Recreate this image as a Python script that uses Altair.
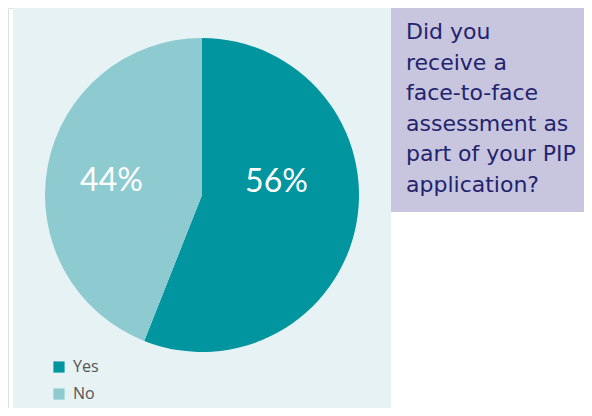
import altair as alt
import pandas as pd

categories = ["Yes", "No"]
values = [56, 44]
labels = ["56%", "44%"]
colors = ["#00959f", "#8ecbd1"]
question_lines = ["Did you", "receive a", "face-to-face", "assessment as",
                  "part of your PIP", "application?"]

df = pd.DataFrame({"category": categories, "value": values, "label": labels})
one = alt.Data(values=[{"k": 1}])

panel = alt.Chart(one).mark_rect(color="#e6f2f4").encode(
    x=alt.value(5), x2=alt.value(383), y=alt.value(-1), y2=alt.value(410))
box = alt.Chart(one).mark_rect(color="#c8c6de").encode(
    x=alt.value(383), x2=alt.value(584), y=alt.value(-1), y2=alt.value(204))

theta_scale = alt.Scale(domain=[0, 100])

color = alt.Color("category:N", scale=alt.Scale(domain=categories, range=colors),
                  sort=categories,
                  legend=alt.Legend(title=None, orient="none", legendX=43, legendY=351,
                                    symbolType="square", symbolSize=125,
                                    symbolStrokeWidth=0, labelFontSize=16,
                                    labelFont="Open Sans", labelColor="#555555",
                                    rowPadding=11, padding=0, labelOffset=6))

stacked = alt.Chart(df).transform_stack(
    stack="value", as_=["v0", "v1"], groupby=[],
    sort=[alt.SortField("category", order="descending")])

pie = stacked.mark_arc(radius=157, stroke=None).encode(
    theta=alt.Theta("v0:Q", scale=theta_scale), theta2="v1:Q",
    color=color,
    x=alt.value(194), y=alt.value(187))

def lbl(cat, dx, dy):
    return stacked.transform_filter(alt.datum.category == cat).transform_calculate(
        mid="(datum.v0 + datum.v1) / 2").mark_text(
        radius=84, fontSize=32, font="Lato", color="white", dx=dx, dy=dy,
        baseline="middle", align="center").encode(
        theta=alt.Theta("mid:Q", scale=theta_scale),
        text="label:N", x=alt.value(194), y=alt.value(187))

question = alt.Chart(alt.Data(values=[{"t": "\n".join(question_lines)}])).mark_text(
    align="left", baseline="top", fontSize=22, font="DejaVu Sans", color="#23236e",
    lineBreak="\n", lineHeight=30.5).encode(
    text="t:N", x=alt.value(398), y=alt.value(14))

chart = alt.layer(panel, box, pie, lbl("Yes", -8, -29), lbl("No", -8, 2), question).properties(
    width=576, height=400, padding=0, autosize=alt.AutoSizeParams(type="none")
).configure_view(stroke=None).configure(background="white")

chart.save("out.html", embed_options={"renderer": "svg", "actions": False})
